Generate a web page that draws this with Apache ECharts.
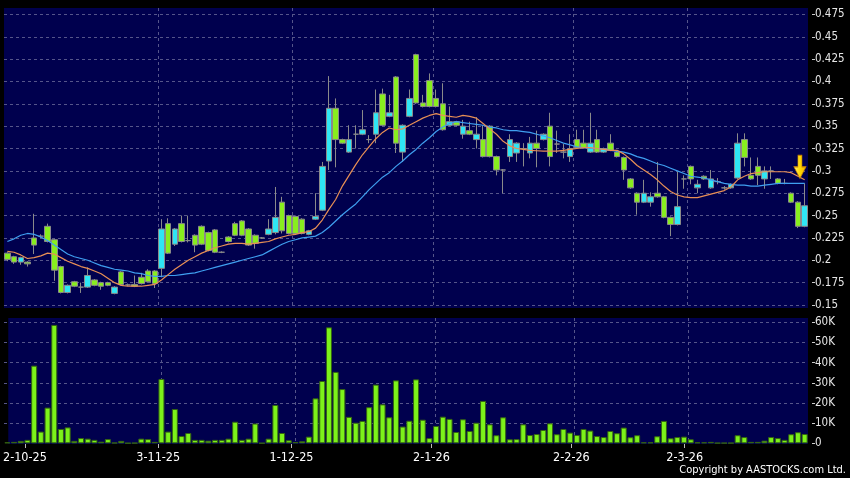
<!DOCTYPE html>
<html><head><meta charset="utf-8">
<script src="https://cdn.jsdelivr.net/npm/echarts@6/dist/echarts.min.js"></script>
<style>html,body{margin:0;padding:0;background:#000;}#c{width:850px;height:478px;}</style>
</head><body><div id="c"></div>
<script>
// Trading days shown (d-m-yy)
const dates = [
'29-9-25','30-9-25',
'2-10-25','3-10-25','6-10-25','8-10-25','9-10-25','10-10-25','13-10-25','14-10-25','15-10-25','16-10-25','17-10-25','20-10-25','21-10-25','22-10-25','23-10-25','24-10-25','27-10-25','28-10-25','30-10-25','31-10-25',
'3-11-25','4-11-25','5-11-25','6-11-25','7-11-25','10-11-25','11-11-25','12-11-25','13-11-25','14-11-25','17-11-25','18-11-25','19-11-25','20-11-25','21-11-25','24-11-25','25-11-25','26-11-25','27-11-25','28-11-25',
'1-12-25','2-12-25','3-12-25','4-12-25','5-12-25','8-12-25','9-12-25','10-12-25','11-12-25','12-12-25','15-12-25','16-12-25','17-12-25','18-12-25','19-12-25','22-12-25','23-12-25','24-12-25','29-12-25','30-12-25','31-12-25',
'2-1-26','5-1-26','6-1-26','7-1-26','8-1-26','9-1-26','12-1-26','13-1-26','14-1-26','15-1-26','16-1-26','19-1-26','20-1-26','21-1-26','22-1-26','23-1-26','26-1-26','27-1-26','28-1-26','29-1-26','30-1-26',
'2-2-26','3-2-26','4-2-26','5-2-26','6-2-26','9-2-26','10-2-26','11-2-26','12-2-26','13-2-26','16-2-26','20-2-26','23-2-26','24-2-26','25-2-26','26-2-26','27-2-26',
'2-3-26','3-3-26','4-3-26','5-3-26','6-3-26','9-3-26','10-3-26','11-3-26','12-3-26','13-3-26','16-3-26','17-3-26','18-3-26','19-3-26','20-3-26','23-3-26','24-3-26','25-3-26','26-3-26'
];
const opens = [
.208,.204,.198,.198,.225,.227,.238,.223,.193,.164,
.176,.170,.170,.178,.175,.175,.163,.187,.1725,.173,
.181,.188,.188,.191,.241,.218,.241,.222,.228,.238,
.231,.234,.209,.226,.241,.244,.235,.228,.225,.229,
.231,.265,.250,.249,.246,.229,.246,.256,.311,.370,
.335,.321,.341,.341,.335,.341,.386,.361,.405,.321,
.361,.430,.376,.401,.381,.375,.351,.355,.341,.345,
.335,.335,.350,.316,.301,.316,.320,.325,.320,.331,
.335,.350,.330,.321,.316,.335,.331,.321,.335,.321,
.331,.321,.315,.291,.275,.265,.265,.275,.271,.248,
.240,.291,.305,.281,.294,.281,.288,.281,.281,.292,
.335,.295,.305,.291,.300,.291,.286,.275,.265,.238];
const closes = [
.201,.198,.203,.196,.217,.227,.221,.189,.164,.172,
.171,.170,.183,.172,.171,.172,.170,.173,.1725,.171,
.174,.176,.174,.235,.208,.235,.221,.222,.217,.218,
.211,.209,.209,.221,.228,.228,.217,.219,.225,.235,
.248,.233,.230,.230,.230,.233,.249,.305,.370,.335,
.331,.335,.341,.346,.335,.365,.351,.365,.331,.351,
.381,.376,.372,.372,.372,.346,.355,.351,.350,.341,
.341,.316,.316,.301,.301,.335,.331,.325,.331,.325,
.341,.316,.330,.321,.325,.326,.326,.331,.321,.325,
.323,.316,.301,.281,.265,.275,.271,.271,.248,.240,
.260,.291,.291,.285,.291,.291,.288,.281,.285,.331,
.315,.291,.295,.300,.300,.286,.286,.265,.238,.261];
const lows = [
.199,.196,.195,.193,.207,.225,.220,.177,.163,.163,
.170,.1635,.169,.171,.167,.171,.162,.172,.171,.170,
.173,.175,.169,.181,.207,.216,.220,.220,.209,.217,
.210,.208,.208,.220,.227,.227,.216,.213,.224,.228,
.229,.230,.229,.229,.229,.228,.245,.255,.301,.304,
.330,.320,.325,.340,.331,.331,.350,.360,.320,.310,
.360,.375,.371,.371,.371,.345,.350,.350,.336,.340,
.325,.315,.315,.295,.275,.310,.310,.305,.314,.304,
.334,.305,.320,.314,.310,.325,.325,.320,.320,.320,
.322,.315,.290,.280,.251,.264,.260,.270,.247,.227,
.239,.280,.285,.275,.290,.280,.285,.279,.280,.291,
.305,.290,.284,.280,.291,.285,.285,.264,.236,.237];
const highs = [
.209,.205,.204,.199,.252,.229,.241,.224,.194,.173,
.177,.175,.192,.179,.176,.176,.171,.188,.174,.183,
.186,.190,.189,.246,.247,.236,.250,.250,.229,.239,
.232,.235,.210,.227,.243,.245,.236,.229,.226,.246,
.282,.271,.251,.250,.247,.234,.275,.310,.406,.381,
.336,.351,.351,.368,.340,.391,.392,.385,.406,.352,
.391,.431,.385,.409,.391,.398,.372,.356,.357,.355,
.360,.351,.351,.317,.302,.341,.332,.331,.338,.345,
.342,.365,.345,.330,.341,.346,.346,.365,.346,.326,
.341,.322,.316,.292,.276,.290,.276,.310,.272,.249,
.299,.295,.306,.290,.295,.301,.292,.283,.286,.342,
.342,.315,.315,.305,.305,.292,.291,.276,.266,.286];
const volumes = [
500,700,1200,1700,38500,5800,17700,58700,7100,7900,
1200,2600,2300,1700,800,2100,300,1200,100,200,
2300,2100,700,31900,5800,17000,3600,5100,1700,1700,
1300,1700,1700,2300,10700,1700,2300,9800,100,2300,
19000,5100,1500,600,1000,3300,22300,30900,57500,35400,
26900,13100,10200,11100,17900,29100,19300,12900,31200,8300,
11200,31700,11700,2600,8600,13200,12100,5600,11900,6100,
10200,21000,9400,4000,12900,2000,2100,9400,4100,4600,
6600,9900,4500,7100,5300,4100,7100,6300,3600,3100,
6100,5000,7800,3000,4000,500,500,3500,11100,2500,
3100,3300,2000,500,500,700,200,200,200,4000,
3100,700,700,1300,3100,2600,1700,4500,5500,4600];
const maShort = [
.210,.209,.206,.202,.203,.205,.208,.207,.203,.199,
.196,.193,.191,.188,.185,.180,.175,.172,.171,.171,
.171,.172,.173,.178,.184,.190,.195,.200,.204,.208,
.211,.214,.216,.218,.219,.219,.218,.219,.220,.221,
.224,.226,.228,.229,.231,.232,.236,.245,.257,.268,
.283,.295,.307,.318,.327,.336,.343,.348,.346,.347,
.351,.355,.359,.362,.364,.362,.361,.360,.362,.361,
.359,.353,.347,.341,.333,.328,.325,.324,.323,.3225,
.322,.322,.322,.323,.324,.325,.326,.326,.325,.324,
.323,.323,.319,.313,.306,.301,.296,.290,.283,.277,
.273,.271,.270,.270,.272,.274,.276,.278,.282,.290,
.294,.297,.298,.299,.299,.299,.299,.298,.294,.290];
const maLong = [
.221,.224,.228,.230,.229,.226,.222,.217,.212,.207,
.204,.202,.200,.197,.194,.192,.190,.189,.188,.186,
.185,.183,.182,.182,.183,.183,.184,.185,.186,.188,
.190,.192,.194,.196,.198,.200,.202,.204,.206,.210,
.214,.218,.221,.223,.225,.226,.227,.231,.237,.244,
.251,.257,.263,.271,.279,.286,.293,.298,.305,.311,
.318,.324,.331,.337,.344,.349,.353,.355,.354,.353,
.352,.351,.349,.348,.346,.345,.345,.344,.343,.341,
.339,.337,.334,.331,.329,.327,.326,.325,.325,.324,
.323,.322,.321,.319,.316,.314,.311,.308,.306,.303,
.300,.297,.294,.293,.292,.290,.288,.286,.285,.284,
.284,.283,.283,.284,.285,.286,.286,.286,.286,.286];
const priceMin = 0.15, priceMax = 0.475, priceStep = 0.025;
const volMax = 60000, volStep = 10000;
const arrowPrice = 0.3045;

const candleData = dates.map((d, i) => [opens[i], closes[i], lows[i], highs[i]]);
const monthOf = s => s.split('-')[1];
const isMonthStart = i => i > 0 && monthOf(dates[i]) !== monthOf(dates[i - 1]);
const splitFn = i => i > 0 && isMonthStart(i - 1);
const gridLine = { show: true, showMinLine: false, showMaxLine: false, lineStyle: { color: '#55558a', type: [3, 3], width: 1 } };
const font = 'DejaVu Sans Condensed, DejaVu Sans, sans-serif';
const navy = '#00004e';

const chart = echarts.init(document.getElementById('c'));
chart.setOption({
  backgroundColor: '#000',
  animation: false,
  grid: [
    { left: 4, right: 42, top: 8, height: 300, show: true, backgroundColor: navy, borderWidth: 0 },
    { left: 4, right: 42, top: 14.4, height: 290.6 },
    { left: 4, right: 42, top: 318, height: 126, show: true, backgroundColor: navy, borderWidth: 0 },
    { left: 4, right: 42, top: 322.3, height: 121 }
  ],
  xAxis: [
    { gridIndex: 0, type: 'category', data: dates, axisLine: { show: false }, axisTick: { show: false }, axisLabel: { show: false }, splitLine: Object.assign({ interval: splitFn }, gridLine) },
    { gridIndex: 1, type: 'category', data: dates, show: false },
    { gridIndex: 2, type: 'category', data: dates, axisLine: { show: false },
      axisTick: { show: true, alignWithLabel: true, interval: isMonthStart, length: 4, lineStyle: { color: '#bbbbbb' } },
      axisLabel: { interval: isMonthStart, color: '#ffffff', fontSize: 12.5, fontFamily: font, margin: 7, hideOverlap: false },
      splitLine: Object.assign({ interval: splitFn }, gridLine) },
    { gridIndex: 3, type: 'category', data: dates, show: false }
  ],
  yAxis: [
    { gridIndex: 0, type: 'value', show: false },
    { gridIndex: 1, type: 'value', position: 'right', min: priceMin, max: priceMax, interval: priceStep, offset: 4,
      axisLine: { show: false }, axisTick: { show: true, length: 3, lineStyle: { color: '#cccccc' } },
      axisLabel: { color: '#e6e6e6', fontSize: 11.5, fontFamily: font, margin: 3, formatter: v => String(parseFloat(v.toFixed(3))) },
      splitLine: { show: true, lineStyle: { color: '#55558a', type: [3, 3], width: 1 } } },
    { gridIndex: 2, type: 'value', show: false },
    { gridIndex: 3, type: 'value', position: 'right', min: 0, max: volMax, interval: volStep, offset: 4,
      axisLine: { show: false }, axisTick: { show: true, length: 3, lineStyle: { color: '#cccccc' } },
      axisLabel: { color: '#e6e6e6', fontSize: 11.5, fontFamily: font, margin: 3, formatter: v => v === 0 ? '0' : (v / 1000) + 'K' },
      splitLine: { show: true, showMinLine: false, lineStyle: { color: '#55558a', type: [3, 3], width: 1 } } }
  ],
  series: [
    { type: 'candlestick', xAxisIndex: 1, yAxisIndex: 1, data: candleData, barWidth: 6,
      itemStyle: { color: '#2fe6f4', color0: '#88ee1e', borderColor: '#8a8a8a', borderColor0: '#8a8a8a', borderWidth: 1 },
      markPoint: {
        symbol: 'path://M4,0 L8,0 L8,11 L12,11 L6,22 L0,11 L4,11 Z', symbolSize: [12, 23], symbolKeepAspect: false,
        label: { show: false }, silent: true,
        itemStyle: { color: new echarts.graphic.LinearGradient(0, 0, 1, 0, [{ offset: 0, color: '#fff27a' }, { offset: 0.5, color: '#ffd800' }, { offset: 1, color: '#f2b000' }]), borderColor: '#c88400', borderWidth: 0.8 },
        data: [{ coord: [dates[118], arrowPrice], symbolOffset: [2, 0] }]
      } },
    { type: 'line', xAxisIndex: 1, yAxisIndex: 1, data: maLong, symbol: 'none', lineStyle: { color: '#3f9ff0', width: 1.2 } },
    { type: 'line', xAxisIndex: 1, yAxisIndex: 1, data: maShort, symbol: 'none', lineStyle: { color: '#e88f55', width: 1.2 } },
    { type: 'bar', xAxisIndex: 3, yAxisIndex: 3, data: volumes, barWidth: 6,
      itemStyle: { color: '#7cf21a', borderColor: '#356412', borderWidth: 1 } }
  ],
  graphic: [
    { type: 'text', right: 4, top: 465, style: { text: 'Copyright by AASTOCKS.com Ltd.', fill: '#ffffff', font: '11px ' + font } }
  ]
});
</script></body></html>
